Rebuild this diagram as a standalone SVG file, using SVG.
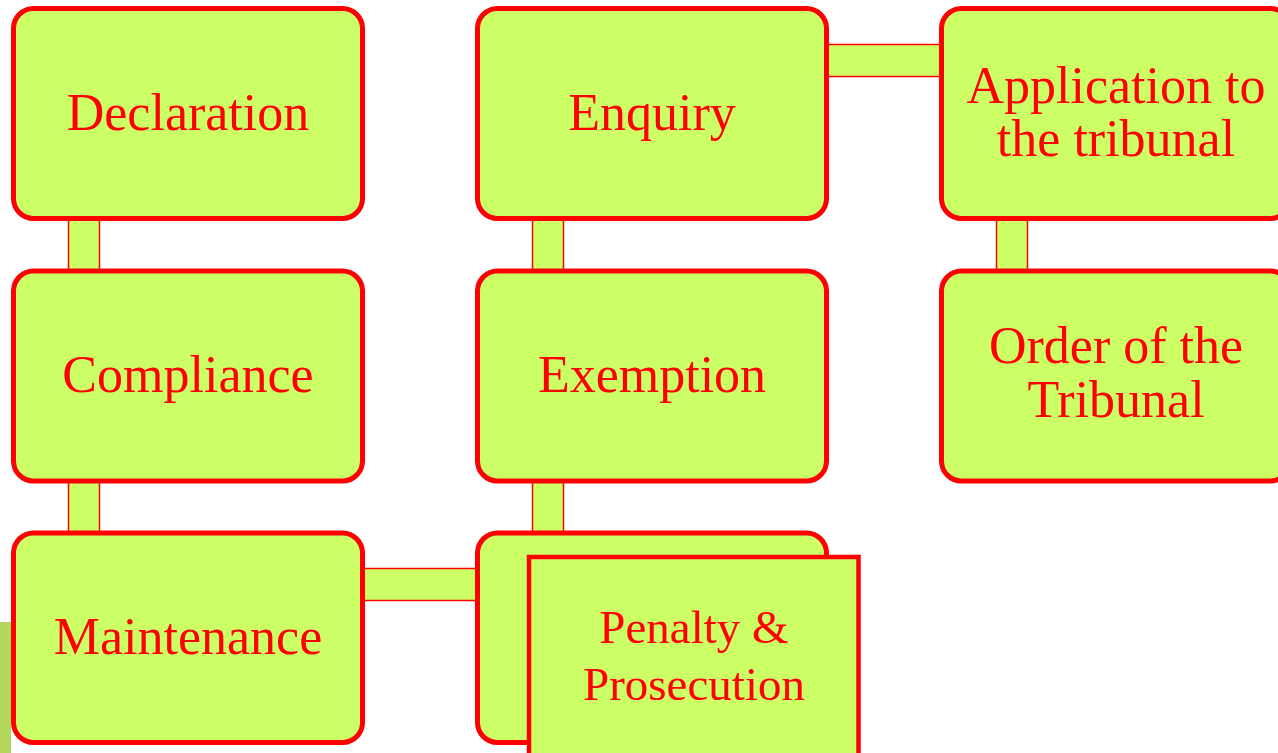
<svg xmlns="http://www.w3.org/2000/svg" width="1278" height="753" viewBox="0 0 1278 753">
<style>
.box{fill:#ccff66;stroke:#ff0000;stroke-width:5}
.pbox{fill:#ccff66;stroke:#ff0000;stroke-width:4.5}
.conn{fill:#ccff66;stroke:#ff0000;stroke-width:1.5}
.t{font-family:"Liberation Serif","Times New Roman",serif;font-size:52px;fill:#ff0000;text-anchor:middle}
.ts{font-family:"Liberation Serif","Times New Roman",serif;font-size:47px;fill:#ff0000;text-anchor:middle}
</style>
<rect x="0" y="622" width="11" height="131" fill="#b3d65c"/>
<g id="connectors">
<rect class="conn" x="68.5" y="217" width="31" height="56"/>
<rect class="conn" x="68.5" y="479" width="31" height="56"/>
<rect class="conn" x="532.5" y="217" width="31" height="56"/>
<rect class="conn" x="532.5" y="479" width="31" height="56"/>
<rect class="conn" x="996.5" y="217" width="31" height="56"/>
<rect class="conn" x="361" y="568.5" width="118" height="32"/>
<rect class="conn" x="825" y="44.5" width="118" height="32"/>
</g>
<g id="declaration"><rect class="box" x="13.5" y="8.5" width="349" height="210" rx="20"/><text class="t" x="188" y="130">Declaration</text></g>
<g id="compliance"><rect class="box" x="13.5" y="271" width="349" height="210" rx="20"/><text class="t" x="188" y="392">Compliance</text></g>
<g id="maintenance"><rect class="box" x="13.5" y="533" width="349" height="209.5" rx="20"/><text class="t" x="188" y="654">Maintenance</text></g>
<g id="enquiry"><rect class="box" x="477.5" y="8.5" width="349" height="210" rx="20"/><text class="t" x="652" y="130">Enquiry</text></g>
<g id="exemption"><rect class="box" x="477.5" y="271" width="349" height="210" rx="20"/><text class="t" x="652" y="392">Exemption</text></g>
<g id="hidden-node"><rect class="box" x="477.5" y="533" width="349" height="209.5" rx="20"/></g>
<g id="application"><rect class="box" x="941.5" y="8.5" width="349" height="210" rx="20"/><text class="t" x="1116" y="103">Application to</text><text class="t" x="1116" y="156">the tribunal</text></g>
<g id="order"><rect class="box" x="941.5" y="271" width="349" height="210" rx="20"/><text class="t" x="1116" y="363">Order of the</text><text class="t" x="1116" y="417">Tribunal</text></g>
<g id="penalty"><rect class="pbox" x="529" y="557" width="329.5" height="210"/><text class="ts" x="694" y="643">Penalty &amp;</text><text class="ts" x="694" y="700">Prosecution</text></g>
</svg>
